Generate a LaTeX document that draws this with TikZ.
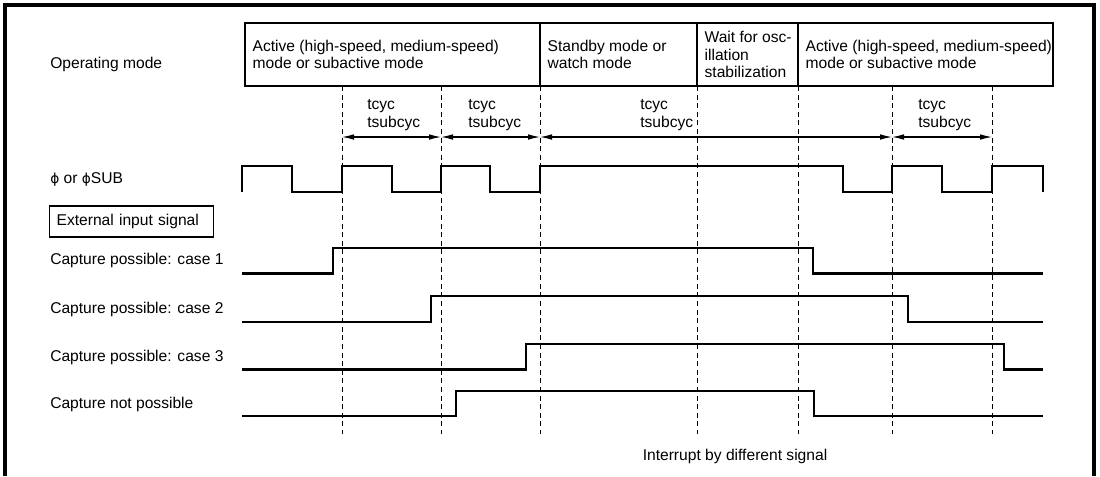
\documentclass[tikz,border=0pt]{standalone}
\usepackage{fontspec}
\setmainfont{Liberation Sans}
\newfontfamily\phifont{DejaVu Sans}[Scale=0.88]
\usetikzlibrary{arrows.meta,fit}

\newcommand{\phisym}{{\phifont ϕ}}

\tikzset{
  lbl/.style={anchor=west, inner sep=0pt},
  cell/.style={draw, line width=0.9pt, inner sep=0pt},
  celltext/.style={anchor=west, align=left, inner xsep=2mm, inner ysep=0pt},
  extbox/.style={draw, line width=0.9pt, anchor=west, text width=37.5mm, align=left,
    inner xsep=1.75mm, minimum height=7.75mm},
  wave/.style={line width=2pt, line join=miter},
  guide/.style={dash pattern=on 1.25mm off 0.9mm, line width=0.7pt},
  period/.style={{Latex[length=3mm,width=1.4mm]}-{Latex[length=3mm,width=1.4mm]}, line width=0.8pt},
}

\begin{document}
\begin{tikzpicture}[x=0.25mm, y=-0.25mm, font=\fontsize{11.1}{12.4}\selectfont]
    \useasboundingbox (0,0) rectangle (1100,476);

    % Frame
    \draw[line width=2.4pt] (5,476) -- (5,5) -- (1094,5) -- (1094,476);

    % Operating mode row
    \node[lbl] (opmode) at (50,64) {Operating mode};
    \node[cell, fit={(245,23) (540,86)}] (act1) {};
    \node[cell, fit={(540,23) (697,86)}] (stby) {};
    \node[cell, fit={(697,23) (798,86)}] (osc) {};
    \node[cell, fit={(798,23) (1053,86)}] (act2) {};
    \node[celltext] (act1txt) at (act1.west) {Active (high-speed, medium-speed)\\mode or subactive mode};
    \node[celltext] (stbytxt) at (stby.west) {Standby mode or\\watch mode};
    \node[celltext] (osctxt) at (osc.west) {Wait for osc-\\illation\\stabilization};
    \node[celltext] (act2txt) at (act2.west) {Active (high-speed, medium-speed)\\mode or subactive mode};

    % Edges of the clock
    \coordinate (e1) at (342,86);
    \coordinate (e2) at (441,86);
    \coordinate (e3) at (540,86);
    \coordinate (e4) at (697,86);
    \coordinate (e5) at (798,86);
    \coordinate (e6) at (892,86);
    \coordinate (e7) at (992,86);
    \coordinate (bot) at (0,434);
    \coordinate (arr) at (0,137);

    \draw[guide] (e1) -- (e1 |- bot);
    \draw[guide] (e2) -- (e2 |- bot);
    \draw[guide] (e3) -- (e3 |- bot);
    \draw[guide] (e4) -- (e4 |- bot);
    \draw[guide] (e5) -- (e5 |- bot);
    \draw[guide] (e6) -- (e6 |- bot);
    \draw[guide] (e7) -- (e7 |- bot);

    % Cycle times
    \draw[period] (e1 |- arr) -- (e2 |- arr);
    \draw[period] (e2 |- arr) -- (e3 |- arr);
    \draw[period] (e3 |- arr) -- (e6 |- arr);
    \draw[period] (e6 |- arr) -- (e7 |- arr);
    \node[lbl, align=left] (cyc1) at (367,115) {tcyc\\tsubcyc};
    \node[lbl, align=left] (cyc2) at (468,115) {tcyc\\tsubcyc};
    \node[lbl, align=left] (cyc3) at (640,115) {tcyc\\tsubcyc};
    \node[lbl, align=left] (cyc4) at (918,115) {tcyc\\tsubcyc};

    % Clock
    \node[lbl] (phi) at (50,179) {\phisym{} or \phisym{}SUB};
    \draw[wave] (242,192) -- (242,166) -- (292,166) -- (292,192) -- (342,192) -- (342,166)
        -- (392,166) -- (392,192) -- (441,192) -- (441,166) -- (490,166) -- (490,192)
        -- (540,192) -- (540,166) -- (843,166) -- (843,192) -- (892,192) -- (892,166)
        -- (942,166) -- (942,192) -- (992,192) -- (992,166) -- (1043,166) -- (1043,192);

    % External input signal
    \node[extbox] (ext) at (49,221.5) {External input signal};

    \node[lbl] (case1) at (50,260) {Capture possible: case 1};
    \draw[wave] (242,273.5) -- (333,273.5) -- (333,248) -- (813,248) -- (813,273.5) -- (1043,273.5);

    \node[lbl] (case2) at (50,309) {Capture possible: case 2};
    \draw[wave] (242,322) -- (431,322) -- (431,296) -- (908,296) -- (908,322) -- (1043,322);

    \node[lbl] (case3) at (50,357) {Capture possible: case 3};
    \draw[wave] (242,369.5) -- (526,369.5) -- (526,344) -- (1004,344) -- (1004,369.5) -- (1043,369.5);

    \node[lbl] (nocap) at (50,404) {Capture not possible};
    \draw[wave] (242,416) -- (456,416) -- (456,391) -- (814,391) -- (814,416) -- (1043,416);

    \node (intr) at (735,456) {Interrupt by different signal};
\end{tikzpicture}
\end{document}
